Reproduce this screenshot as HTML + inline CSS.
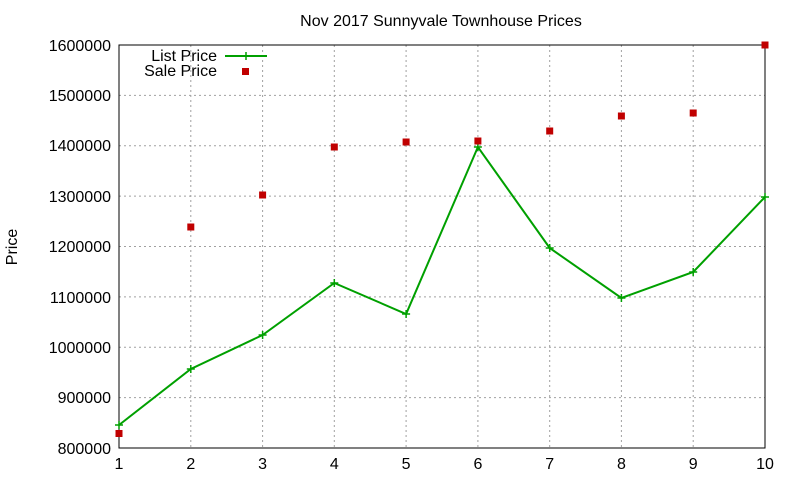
<!DOCTYPE html>
<html><head><style>body{margin:0;background:#fff}svg{display:block}text{font-family:"Liberation Sans",sans-serif;font-size:16px;fill:#000}</style></head>
<body>
<svg width="800" height="480" viewBox="0 0 800 480">
<rect width="800" height="480" fill="#fff"/>
<g stroke="#a0a0a0" stroke-width="1" stroke-dasharray="2,3">
<line x1="119" y1="397.6" x2="765" y2="397.6"/><line x1="119" y1="347.2" x2="765" y2="347.2"/><line x1="119" y1="296.9" x2="765" y2="296.9"/><line x1="119" y1="246.5" x2="765" y2="246.5"/><line x1="119" y1="196.1" x2="765" y2="196.1"/><line x1="119" y1="145.8" x2="765" y2="145.8"/><line x1="119" y1="95.4" x2="765" y2="95.4"/>
<line x1="190.8" y1="45" x2="190.8" y2="448"/><line x1="262.6" y1="45" x2="262.6" y2="448"/><line x1="334.3" y1="45" x2="334.3" y2="448"/><line x1="406.1" y1="45" x2="406.1" y2="448"/><line x1="477.9" y1="45" x2="477.9" y2="448"/><line x1="549.7" y1="45" x2="549.7" y2="448"/><line x1="621.4" y1="45" x2="621.4" y2="448"/><line x1="693.2" y1="45" x2="693.2" y2="448"/>
</g>
<rect x="119" y="45" width="646" height="403" fill="none" stroke="#000"/>
<g text-anchor="end">
<text x="111" y="454">800000</text><text x="111" y="403">900000</text><text x="111" y="353">1000000</text><text x="111" y="303">1100000</text><text x="111" y="252">1200000</text><text x="111" y="202">1300000</text><text x="111" y="151">1400000</text><text x="111" y="101">1500000</text><text x="111" y="51">1600000</text>
</g>
<g text-anchor="middle">
<text x="119" y="469">1</text><text x="190.8" y="469">2</text><text x="262.6" y="469">3</text><text x="334.3" y="469">4</text><text x="406.1" y="469">5</text><text x="477.9" y="469">6</text><text x="549.7" y="469">7</text><text x="621.4" y="469">8</text><text x="693.2" y="469">9</text><text x="765" y="469">10</text>
<text x="441" y="26">Nov 2017 Sunnyvale Townhouse Prices</text>
</g>
<text transform="translate(17,247) rotate(-90)" text-anchor="middle">Price</text>
<text x="217" y="61" text-anchor="end">List Price</text>
<text x="217" y="76" text-anchor="end">Sale Price</text>
<line x1="225" y1="56" x2="267" y2="56" stroke="#00a000" stroke-width="2"/>
<path d="M242 56h8M246 52v8" stroke="#00a000" stroke-width="1.5"/>
<rect x="242" y="68" width="7" height="7" fill="#c00000"/>
<polyline fill="none" stroke="#00a000" stroke-width="2" points="119,425 190.8,369 262.6,335 334.3,283 406.1,314 477.9,147 549.7,248 621.4,298 693.2,272 765,197"/>
<g stroke="#00a000" stroke-width="1.5">
<path d="M115 425h8M119 421v8M186.8 369h8M190.8 365v8M258.6 335h8M262.6 331v8M330.3 283h8M334.3 279v8M402.1 314h8M406.1 310v8M473.9 147h8M477.9 143v8M545.7 248h8M549.7 244v8M617.4 298h8M621.4 294v8M689.2 272h8M693.2 268v8M761 197h8M765 193v8"/>
</g>
<g fill="#c00000">
<rect x="115.5" y="430" width="7" height="7"/><rect x="187.3" y="223.5" width="7" height="7"/><rect x="259.1" y="191.5" width="7" height="7"/><rect x="330.8" y="143.5" width="7" height="7"/><rect x="402.6" y="138.5" width="7" height="7"/><rect x="474.4" y="137.5" width="7" height="7"/><rect x="546.2" y="127.5" width="7" height="7"/><rect x="617.9" y="112.5" width="7" height="7"/><rect x="689.7" y="109.5" width="7" height="7"/><rect x="761.5" y="41.5" width="7" height="7"/>
</g>
</svg>
</body></html>
